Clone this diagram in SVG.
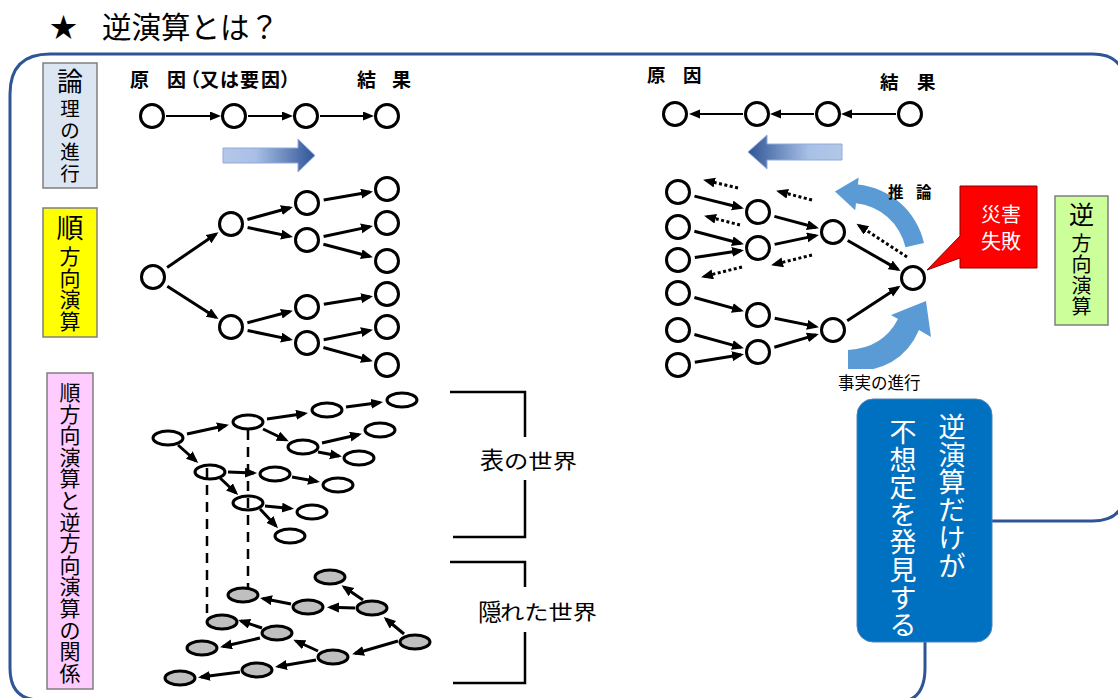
<svg xmlns="http://www.w3.org/2000/svg" width="1118" height="698" viewBox="0 0 1118 698">
<defs>
<style>
text{font-family:'Noto Sans CJK JP','Noto Sans CJK SC',sans-serif;fill:#000}
.c{fill:#fff;stroke:#000;stroke-width:3}
.e{fill:#fff;stroke:#000;stroke-width:3}
.g{fill:#bfbfbf;stroke:#000;stroke-width:3}
.a{stroke:#000;stroke-width:3;fill:none;marker-end:url(#ah)}
.at{stroke:#000;stroke-width:2;fill:none;marker-end:url(#ahs)}
.d{stroke:#000;stroke-width:3;fill:none;stroke-dasharray:3 2.5;marker-end:url(#ah)}
.dash{stroke:#000;stroke-width:2.5;fill:none;stroke-dasharray:10 7}
.br{stroke:#000;stroke-width:2.5;fill:none}
.frame{stroke:#2f5597;stroke-width:3;fill:none}
.lbl{stroke:#7f7f7f;stroke-width:1.5}
.b{font-weight:bold}
.m{text-anchor:middle}
.w{fill:#fff}
</style>
<marker id="ah" markerUnits="userSpaceOnUse" markerWidth="13" markerHeight="11" refX="9" refY="5" orient="auto"><path d="M0,0 L12,5 L0,10 z" fill="#000"/></marker>
<marker id="ahs" markerUnits="userSpaceOnUse" markerWidth="12" markerHeight="10" refX="8" refY="4.5" orient="auto"><path d="M0,0 L11,4.5 L0,9 z" fill="#000"/></marker>
<linearGradient id="gr" x1="0" y1="0" x2="1" y2="0"><stop offset="0" stop-color="#b4c7e7"/><stop offset="0.35" stop-color="#a9c0e6"/><stop offset="1" stop-color="#2f5597"/></linearGradient>
<linearGradient id="gl" x1="1" y1="0" x2="0" y2="0"><stop offset="0" stop-color="#b4c7e7"/><stop offset="0.35" stop-color="#a9c0e6"/><stop offset="1" stop-color="#2f5597"/></linearGradient>
</defs>
<rect width="1118" height="698" fill="#fff"/>

<g id="title">
<text x="50" y="37" font-size="27">★</text>
<text x="102" y="38" font-size="29.5">逆演算とは？</text>
</g>

<g id="frame">
<path class="frame" d="M10,668 L10,94 Q10,54 50,54 L1092,54 Q1125,54 1125,86 L1125,490 Q1125,521 1092,521 L992,521"/>
<path class="frame" d="M10,668 Q10,700 40,700"/>
<path class="frame" d="M925,642 L925,668 Q925,700 900,702"/>
</g>

<!-- labels -->
<g id="label-logic">
<rect class="lbl" x="43" y="63" width="54" height="125" fill="#dce6f2"/>
<text class="m" font-size="26" x="70" y="91">論</text>
<text class="m" font-size="19.5" x="70" y="116">理</text>
<text class="m" font-size="19.5" x="70" y="138">の</text>
<text class="m" font-size="19.5" x="70" y="159">進</text>
<text class="m" font-size="19.5" x="70" y="180.5">行</text>
</g>
<g id="label-forward">
<rect class="lbl" x="43" y="208" width="54" height="129" fill="#ffff00"/>
<text class="m" font-size="27" x="70" y="238">順</text>
<text class="m" font-size="21" x="70" y="264">方</text>
<text class="m" font-size="21" x="70" y="286">向</text>
<text class="m" font-size="21" x="70" y="307">演</text>
<text class="m" font-size="21" x="70" y="328.5">算</text>
</g>
<g id="label-relation">
<rect class="lbl" x="47" y="373" width="46" height="316" fill="#ffccff"/>
<text class="m" font-size="21" x="70" y="400">順</text>
<text class="m" font-size="21" x="70" y="421.6">方</text>
<text class="m" font-size="21" x="70" y="443.2">向</text>
<text class="m" font-size="21" x="70" y="464.8">演</text>
<text class="m" font-size="21" x="70" y="486.4">算</text>
<text class="m" font-size="21" x="70" y="508">と</text>
<text class="m" font-size="21" x="70" y="529.6">逆</text>
<text class="m" font-size="21" x="70" y="551.2">方</text>
<text class="m" font-size="21" x="70" y="572.8">向</text>
<text class="m" font-size="21" x="70" y="594.4">演</text>
<text class="m" font-size="21" x="70" y="616">算</text>
<text class="m" font-size="21" x="70" y="637.6">の</text>
<text class="m" font-size="21" x="70" y="659.2">関</text>
<text class="m" font-size="21" x="70" y="680.8">係</text>
</g>
<g id="label-reverse">
<rect class="lbl" x="1055" y="196" width="53" height="129" fill="#ccff99"/>
<text class="m" font-size="25" x="1081.5" y="224">逆</text>
<text class="m" font-size="20" x="1081.5" y="251">方</text>
<text class="m" font-size="20" x="1081.5" y="272">向</text>
<text class="m" font-size="20" x="1081.5" y="293">演</text>
<text class="m" font-size="20" x="1081.5" y="314">算</text>
</g>

<!-- top-left logic row -->
<g id="tl-text">
<text class="b" font-size="19" x="130 149 167 181 200 220 240 261 280" y="87">原　因（又は要因）</text>
<text class="b" font-size="19" x="357 376 392" y="87">結　果</text>
</g>
<g id="tl-arrow"><polygon points="223,148 298,148 298,139 315,155.5 298,172 298,163 223,163" fill="url(#gr)" stroke="#8faadc" stroke-width="1"/></g>

<!-- top-right logic row -->
<g id="tr-text">
<text class="b" font-size="18.5" x="647 665 683" y="82">原　因</text>
<text class="b" font-size="18.5" x="880 899 917" y="89">結　果</text>
</g>
<g id="tr-arrow"><polygon points="842,144 767,144 767,135 748,152 767,169 767,160 842,160" fill="url(#gl)" stroke="#8faadc" stroke-width="1"/></g>

<g id="connectors">
<!-- top rows -->
<line class="at" x1="166" y1="116" x2="218" y2="116"/>
<line class="at" x1="248" y1="116" x2="290" y2="116"/>
<line class="at" x1="320" y1="116" x2="371" y2="116"/>
<line class="at" x1="743" y1="114" x2="692" y2="114"/>
<line class="at" x1="814" y1="114" x2="773" y2="114"/>
<line class="at" x1="896" y1="114" x2="844" y2="114"/>
<!-- forward tree -->
<line class="a" x1="167.1" y1="267.4" x2="216" y2="234"/>
<line class="a" x1="167.3" y1="286.2" x2="216" y2="317.5"/>
<line class="a" x1="247.4" y1="219.5" x2="290" y2="207.7"/>
<line class="a" x1="247.6" y1="227.5" x2="290" y2="236.4"/>
<line class="a" x1="247.4" y1="322.7" x2="290" y2="311.5"/>
<line class="a" x1="247.6" y1="330.5" x2="290" y2="339.4"/>
<line class="a" x1="323.7" y1="200.1" x2="370" y2="192"/>
<line class="a" x1="323.6" y1="236.5" x2="370" y2="226.6"/>
<line class="a" x1="323.4" y1="244.3" x2="370" y2="256.5"/>
<line class="a" x1="323.8" y1="304.3" x2="370" y2="296.8"/>
<line class="a" x1="323.7" y1="339.7" x2="370" y2="330.4"/>
<line class="a" x1="323.4" y1="347.5" x2="370" y2="360.4"/>
<!-- surface world -->
<line class="a" x1="187" y1="434" x2="226" y2="425.5"/>
<line class="a" x1="267" y1="419" x2="305" y2="413.5"/>
<line class="a" x1="346" y1="407" x2="380" y2="402.5"/>
<line class="a" x1="263" y1="429" x2="286" y2="440"/>
<line class="a" x1="322" y1="443" x2="359" y2="434.5"/>
<line class="a" x1="318" y1="452" x2="339" y2="456"/>
<line class="a" x1="178" y1="445" x2="196" y2="461"/>
<line class="a" x1="228" y1="472" x2="254" y2="473"/>
<line class="a" x1="292" y1="477" x2="317" y2="481.5"/>
<line class="a" x1="220" y1="478" x2="236" y2="493"/>
<line class="a" x1="265" y1="506" x2="291" y2="508.5"/>
<line class="a" x1="260" y1="509" x2="276" y2="526"/>
<!-- hidden world -->
<line class="a" x1="363" y1="600" x2="344" y2="587"/>
<line class="a" x1="355" y1="608" x2="330" y2="607.3"/>
<line class="a" x1="291" y1="604" x2="263" y2="598.5"/>
<line class="a" x1="404" y1="634" x2="386" y2="619"/>
<line class="a" x1="398" y1="641" x2="355" y2="653.5"/>
<line class="a" x1="318" y1="651" x2="296" y2="641"/>
<line class="a" x1="262" y1="628" x2="241" y2="621"/>
<line class="a" x1="260" y1="638" x2="223" y2="646.5"/>
<line class="a" x1="316" y1="660" x2="278" y2="666.5"/>
<line class="a" x1="240" y1="672" x2="201" y2="677"/>
<!-- reverse tree solid -->
<line class="a" x1="694.5" y1="196.1" x2="741" y2="207.7"/>
<line class="a" x1="694.4" y1="231.3" x2="741" y2="243.5"/>
<line class="a" x1="694.8" y1="257.5" x2="741" y2="250.6"/>
<line class="a" x1="694.4" y1="297.5" x2="741" y2="310.4"/>
<line class="a" x1="694.4" y1="334.5" x2="741" y2="347.4"/>
<line class="a" x1="694.8" y1="362.3" x2="741" y2="354.8"/>
<line class="a" x1="774.4" y1="216.4" x2="816" y2="227.5"/>
<line class="a" x1="774.6" y1="244.4" x2="816" y2="235.6"/>
<line class="a" x1="774.7" y1="318.3" x2="816" y2="326.6"/>
<line class="a" x1="774.3" y1="347.2" x2="816" y2="334.9"/>
<line class="a" x1="847.7" y1="240.5" x2="898" y2="269.4"/>
<line class="a" x1="847.2" y1="320.7" x2="898" y2="287.5"/>
<!-- reverse dotted -->
<line class="d" x1="738" y1="188" x2="706" y2="180.5"/>
<line class="d" x1="812" y1="200" x2="779" y2="191.5"/>
<line class="d" x1="740" y1="225" x2="707" y2="216.5"/>
<line class="d" x1="812" y1="255" x2="774" y2="264.5"/>
<line class="d" x1="742" y1="267" x2="704" y2="276.5"/>
<line class="d" x1="907" y1="257" x2="859" y2="225.5"/>
</g>

<!-- top row circles -->
<g id="l1"><circle class="c" cx="152" cy="116" r="11.5"/></g>
<g id="l2"><circle class="c" cx="234" cy="116" r="11.5"/></g>
<g id="l3"><circle class="c" cx="306" cy="116" r="11.5"/></g>
<g id="l4"><circle class="c" cx="387" cy="116" r="11.5"/></g>
<g id="r1"><circle class="c" cx="675" cy="114" r="11.5"/></g>
<g id="r2"><circle class="c" cx="757" cy="114" r="11.5"/></g>
<g id="r3"><circle class="c" cx="828" cy="114" r="11.5"/></g>
<g id="r4"><circle class="c" cx="910" cy="114" r="11.5"/></g>

<!-- forward tree circles -->
<g id="f0"><circle class="c" cx="153" cy="277" r="11.5"/></g>
<g id="f1a"><circle class="c" cx="231" cy="224" r="11.5"/></g>
<g id="f1b"><circle class="c" cx="231" cy="327" r="11.5"/></g>
<g id="f2a"><circle class="c" cx="307" cy="203" r="11.5"/></g>
<g id="f2b"><circle class="c" cx="307" cy="240" r="11.5"/></g>
<g id="f2c"><circle class="c" cx="307" cy="307" r="11.5"/></g>
<g id="f2d"><circle class="c" cx="307" cy="343" r="11.5"/></g>
<g id="f3a"><circle class="c" cx="387" cy="189" r="11.5"/></g>
<g id="f3b"><circle class="c" cx="387" cy="223" r="11.5"/></g>
<g id="f3c"><circle class="c" cx="387" cy="261" r="11.5"/></g>
<g id="f3d"><circle class="c" cx="387" cy="294" r="11.5"/></g>
<g id="f3e"><circle class="c" cx="387" cy="327" r="11.5"/></g>
<g id="f3f"><circle class="c" cx="387" cy="365" r="11.5"/></g>

<!-- reverse tree circles -->
<g id="b1a"><circle class="c" cx="678" cy="192" r="11.5"/></g>
<g id="b1b"><circle class="c" cx="678" cy="227" r="11.5"/></g>
<g id="b1c"><circle class="c" cx="678" cy="260" r="11.5"/></g>
<g id="b1d"><circle class="c" cx="678" cy="293" r="11.5"/></g>
<g id="b1e"><circle class="c" cx="678" cy="330" r="11.5"/></g>
<g id="b1f"><circle class="c" cx="678" cy="365" r="11.5"/></g>
<g id="b2a"><circle class="c" cx="758" cy="212" r="11.5"/></g>
<g id="b2b"><circle class="c" cx="758" cy="248" r="11.5"/></g>
<g id="b2c"><circle class="c" cx="758" cy="315" r="11.5"/></g>
<g id="b2d"><circle class="c" cx="758" cy="352" r="11.5"/></g>
<g id="b3a"><circle class="c" cx="833" cy="232" r="11.5"/></g>
<g id="b3b"><circle class="c" cx="833" cy="330" r="11.5"/></g>
<g id="b4"><circle class="c" cx="913" cy="278" r="11.5"/></g>

<!-- surface world ellipses -->
<g id="sA"><ellipse class="e" cx="168" cy="438" rx="15" ry="7"/></g>
<g id="sB"><ellipse class="e" cx="248" cy="422" rx="15" ry="7"/></g>
<g id="sC"><ellipse class="e" cx="327" cy="410" rx="15" ry="7"/></g>
<g id="sD"><ellipse class="e" cx="402" cy="400" rx="15" ry="7"/></g>
<g id="sE"><ellipse class="e" cx="380" cy="430" rx="15" ry="7"/></g>
<g id="sF"><ellipse class="e" cx="303" cy="447" rx="15" ry="7"/></g>
<g id="sG"><ellipse class="e" cx="359" cy="458" rx="15" ry="7"/></g>
<g id="sH"><ellipse class="e" cx="210" cy="472" rx="15" ry="7"/></g>
<g id="sI"><ellipse class="e" cx="275" cy="474" rx="15" ry="7"/></g>
<g id="sJ"><ellipse class="e" cx="338" cy="485" rx="15" ry="7"/></g>
<g id="sK"><ellipse class="e" cx="248" cy="503" rx="15" ry="7"/></g>
<g id="sL"><ellipse class="e" cx="312" cy="512" rx="15" ry="7"/></g>
<g id="sM"><ellipse class="e" cx="290" cy="536" rx="15" ry="7"/></g>

<g id="dashes">
<line class="dash" x1="248" y1="430" x2="248" y2="587"/>
<line class="dash" x1="207" y1="468" x2="207" y2="613"/>
</g>

<!-- hidden world ellipses -->
<g id="ha"><ellipse class="g" cx="330" cy="577" rx="15" ry="7"/></g>
<g id="hb"><ellipse class="g" cx="243" cy="595" rx="15" ry="7"/></g>
<g id="hc"><ellipse class="g" cx="308" cy="607" rx="15" ry="7"/></g>
<g id="hd"><ellipse class="g" cx="372" cy="608" rx="15" ry="7"/></g>
<g id="he"><ellipse class="g" cx="222" cy="622" rx="15" ry="7"/></g>
<g id="hf"><ellipse class="g" cx="277" cy="633" rx="15" ry="7"/></g>
<g id="hg"><ellipse class="g" cx="415" cy="642" rx="15" ry="7"/></g>
<g id="hh"><ellipse class="g" cx="202" cy="648" rx="15" ry="7"/></g>
<g id="hi"><ellipse class="g" cx="333" cy="657" rx="15" ry="7"/></g>
<g id="hj"><ellipse class="g" cx="257" cy="670" rx="15" ry="7"/></g>
<g id="hk"><ellipse class="g" cx="180" cy="678" rx="15" ry="7"/></g>

<!-- brackets -->
<g id="bracket-surface">
<path class="br" d="M450,392 H525 V537 H453"/>
<rect x="472" y="437" width="115" height="43" fill="#fff"/>
<text font-size="24" x="480" y="469">表</text>
<text font-size="20" x="504" y="469" textLength="73" lengthAdjust="spacingAndGlyphs">の世界</text>
</g>
<g id="bracket-hidden">
<path class="br" d="M450,562 H525 V683 H453"/>
<rect x="472" y="587" width="135" height="45" fill="#fff"/>
<text font-size="24" x="478" y="621">隠</text>
<text font-size="20" x="500" y="620" textLength="97" lengthAdjust="spacingAndGlyphs">れた世界</text>
</g>

<!-- curved blue arrows -->
<g id="arrow-infer">
<path d="M924,242.9 A76,76 0 0 0 857.9,184.4 L858.7,177.5 L835,191.6 L855.2,210.3 L856,203.3 A57,57 0 0 1 905.5,247.2 Z" fill="#5b9bd5"/>
<text class="b" font-size="15.5" x="888 916" y="198">推論</text>
</g>
<g id="arrow-fact">
<path d="M848,350 Q883,348 898,319 L891,315 L926,301 L931,337 L919,330 Q901,372 848,372 Z" fill="#5b9bd5"/>
<rect x="828" y="369" width="105" height="25" fill="#fff"/>
<text font-size="16.5" x="838" y="389">事実の進行</text>
</g>

<!-- red callout -->
<g id="disaster">
<path d="M960,186 H1037 V268 H960 V258 L927,270 L960,236 Z" fill="#ff0000" stroke="#8b0000" stroke-width="1"/>
<text class="m w" font-size="20" x="1001" y="222">災害</text>
<text class="m w" font-size="20" x="1001" y="249">失敗</text>
</g>

<!-- blue box -->
<g id="discover">
<rect x="857" y="399" width="135" height="243" rx="16" fill="#0070c0" stroke="#4f81bd" stroke-width="1"/>
<text class="m w" font-size="27" x="952" y="437">逆</text>
<text class="m w" font-size="27" x="952" y="464.7">演</text>
<text class="m w" font-size="27" x="952" y="492.4">算</text>
<text class="m w" font-size="27" x="952" y="520.1">だ</text>
<text class="m w" font-size="27" x="952" y="547.8">け</text>
<text class="m w" font-size="27" x="952" y="575.5">が</text>
<text class="m w" font-size="27" x="903" y="442">不</text>
<text class="m w" font-size="27" x="903" y="469.6">想</text>
<text class="m w" font-size="27" x="903" y="497.2">定</text>
<text class="m w" font-size="27" x="903" y="524.8">を</text>
<text class="m w" font-size="27" x="903" y="552.4">発</text>
<text class="m w" font-size="27" x="903" y="580">見</text>
<text class="m w" font-size="27" x="903" y="607.6">す</text>
<text class="m w" font-size="27" x="903" y="635.2">る</text>
</g>
</svg>
